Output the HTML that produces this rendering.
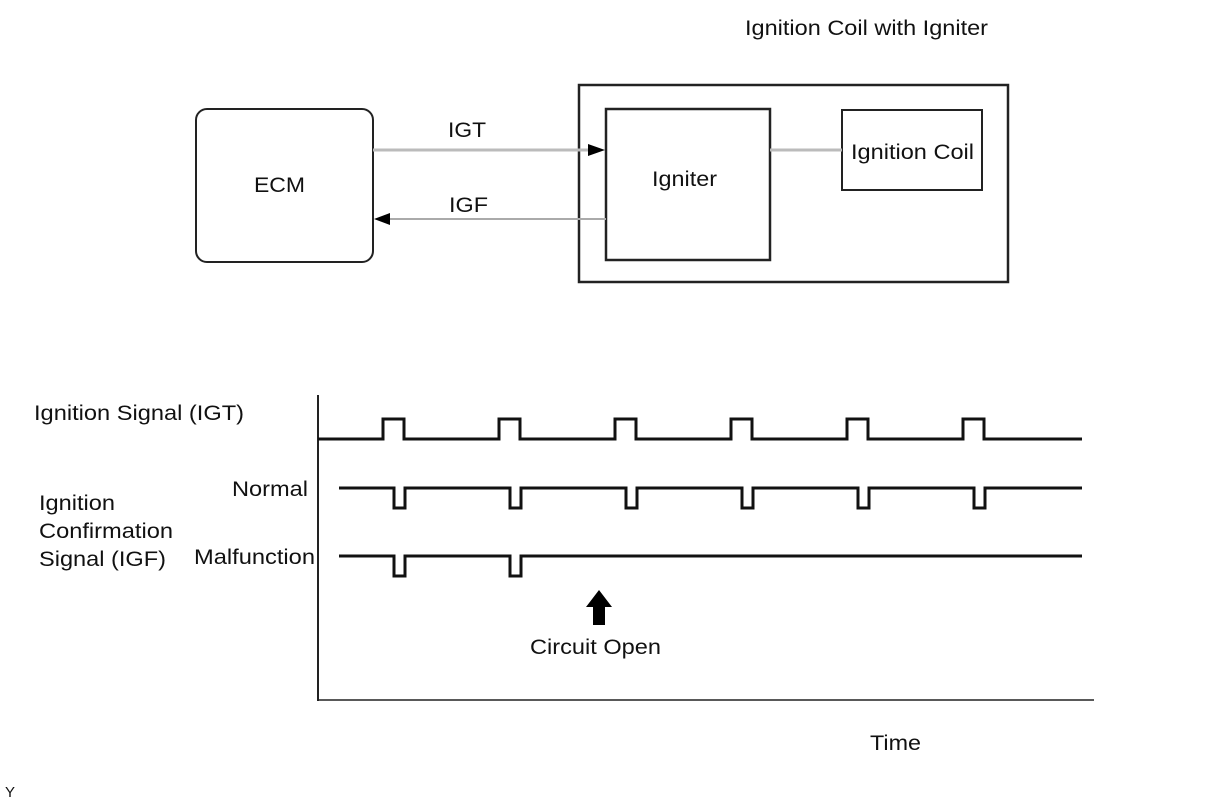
<!DOCTYPE html>
<html><head><style>
body{margin:0;background:#fff;}
svg text{font-family:"Liberation Sans",Arial,sans-serif;font-size:21px;fill:#111;}
</style></head><body>
<svg width="1212" height="804" viewBox="0 0 1212 804" xmlns="http://www.w3.org/2000/svg">
<rect x="0" y="0" width="1212" height="804" fill="#fff"/>
<text x="745" y="35" textLength="243" lengthAdjust="spacingAndGlyphs">Ignition Coil with Igniter</text>
<rect x="196" y="109" width="177" height="153" rx="11" fill="none" stroke="#222" stroke-width="2"/>
<text x="254" y="192" textLength="51" lengthAdjust="spacingAndGlyphs">ECM</text>
<rect x="579" y="85" width="429" height="197" fill="none" stroke="#222" stroke-width="2.5"/>
<rect x="606" y="109" width="164" height="151" fill="none" stroke="#222" stroke-width="2.5"/>
<text x="652" y="186" textLength="65" lengthAdjust="spacingAndGlyphs">Igniter</text>
<rect x="842" y="110" width="140" height="80" fill="none" stroke="#222" stroke-width="2"/>
<text x="851" y="159" textLength="123" lengthAdjust="spacingAndGlyphs">Ignition Coil</text>
<line x1="373" y1="150" x2="592" y2="150" stroke="#bbb" stroke-width="3"/>
<polygon points="588,144 605,150 588,156" fill="#000"/>
<line x1="387" y1="219" x2="606" y2="219" stroke="#aaa" stroke-width="2"/>
<polygon points="374,219 390,213 390,225" fill="#000"/>
<line x1="770" y1="150" x2="842" y2="150" stroke="#bbb" stroke-width="3"/>
<text x="448" y="137" textLength="38" lengthAdjust="spacingAndGlyphs">IGT</text>
<text x="449" y="212" textLength="39" lengthAdjust="spacingAndGlyphs">IGF</text>
<line x1="318" y1="395" x2="318" y2="701" stroke="#222" stroke-width="2"/>
<line x1="318" y1="700" x2="1094" y2="700" stroke="#222" stroke-width="1.5"/>
<g fill="none" stroke="#111" stroke-width="3">
<polyline points="318,439 383,439 383,419 404,419 404,439 499,439 499,419 520,419 520,439 615,439 615,419 636,419 636,439 731,439 731,419 752,419 752,439 847,439 847,419 868,419 868,439 963,439 963,419 984,419 984,439 1082,439"/>
<polyline points="339,488 394,488 394,508 405,508 405,488 510,488 510,508 521,508 521,488 626,488 626,508 637,508 637,488 742,488 742,508 753,508 753,488 858,488 858,508 869,508 869,488 974,488 974,508 985,508 985,488 1082,488"/>
<polyline points="339,556 394,556 394,576 405,576 405,556 510,556 510,576 521,576 521,556 1082,556"/>
</g>
<polygon points="599,590 612,607 605,607 605,625 593,625 593,607 586,607" fill="#000"/>
<text x="34" y="420" textLength="210" lengthAdjust="spacingAndGlyphs">Ignition Signal (IGT)</text>
<text x="232" y="496" textLength="76" lengthAdjust="spacingAndGlyphs">Normal</text>
<text x="194" y="564" textLength="121" lengthAdjust="spacingAndGlyphs">Malfunction</text>
<text x="39" y="510" textLength="76" lengthAdjust="spacingAndGlyphs">Ignition</text>
<text x="39" y="538" textLength="134" lengthAdjust="spacingAndGlyphs">Confirmation</text>
<text x="39" y="566" textLength="127" lengthAdjust="spacingAndGlyphs">Signal (IGF)</text>
<text x="530" y="654" textLength="131" lengthAdjust="spacingAndGlyphs">Circuit Open</text>
<text x="870" y="750" textLength="51" lengthAdjust="spacingAndGlyphs">Time</text>
<text x="5" y="797" style="font-size:15px">Y</text>
</svg>
</body></html>
